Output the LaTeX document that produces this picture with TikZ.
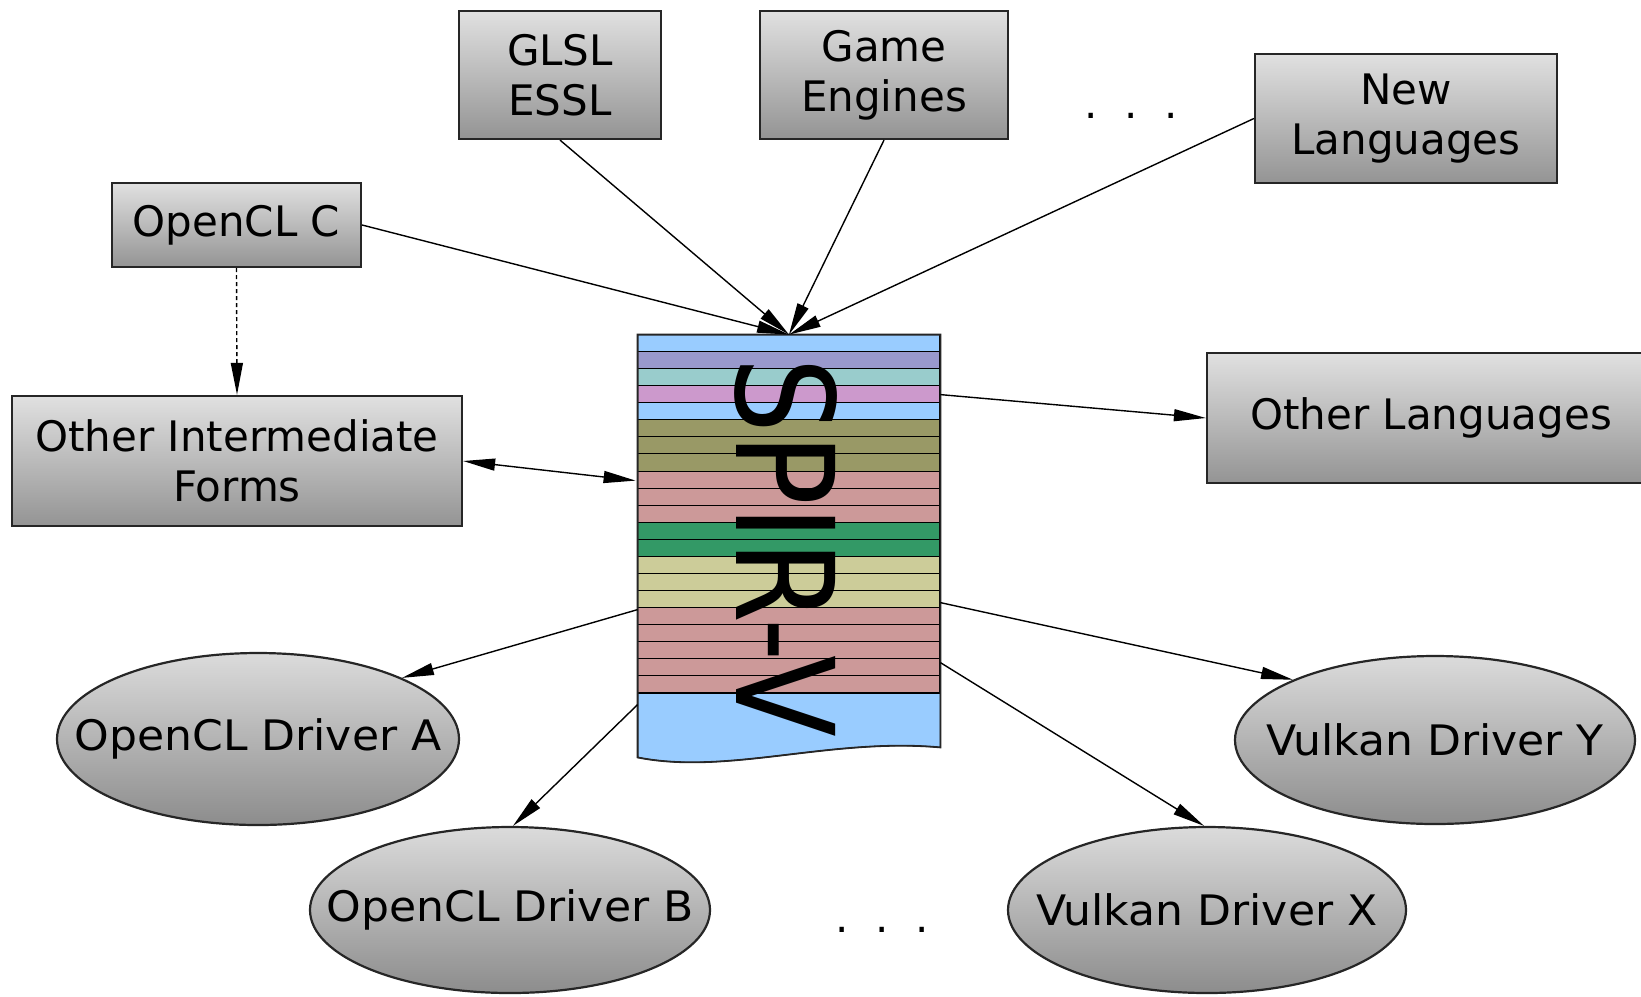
\documentclass[tikz,border=0pt]{standalone}
\usepackage{fontspec}
\setsansfont{DejaVu Sans}
\usepackage{tikz}
\usetikzlibrary{
    calc,
    positioning,
    arrows.meta,
    shapes
}

\begin{document}
\begin{tikzpicture}[
    x=0.5pt, y=-0.5pt,
    font=\sffamily\fontsize{21}{25}\selectfont,
    >={Triangle[length=16pt, width=6pt]},
    box/.style={
    	draw=black!85, line width=1.1pt,
    	top color=black!12, bottom color=black!42,
    	inner sep=0pt, align=center
    }, drv/.style={
    	ellipse, draw=black!85, line width=1.1pt,
    	top color=black!14, bottom color=black!45,
    	inner sep=0pt, align=center
    }, pil/.style={
    	->,
    	line width=0.7pt
    }, pil2/.style={
    	<->,
    	line width=0.7pt
    }]
    \definecolor{sp-blue}{RGB}{153, 204, 255}
    \definecolor{sp-purple}{RGB}{153, 153, 204}
    \definecolor{sp-teal}{RGB}{153, 204, 204}
    \definecolor{sp-pink}{RGB}{204, 153, 204}
    \definecolor{sp-olive}{RGB}{153, 153, 102}
    \definecolor{sp-rose}{RGB}{204, 153, 153}
    \definecolor{sp-green}{RGB}{51, 153, 102}
    \definecolor{sp-khaki}{RGB}{204, 204, 153}

    \clip (0,0) rectangle (1641,996);

    % source languages
    \node[box, minimum width=124.5pt, minimum height=42pt] (openclc) at (236.5,225) {OpenCL C};
    \node[box, minimum width=101pt, minimum height=64pt] (glsl) at (560,75) {GLSL\\ESSL};
    \node[box, minimum width=124pt, minimum height=64pt] (game) at (884,75) {Game\\Engines};
    \node[box, minimum width=151pt, minimum height=64.5pt] (newlang) at (1406,118.5) {New\\Languages};
    \node (dots1) at (1131,116) {.~~.~~.};

    \node[box, minimum width=225pt, minimum height=65pt] (otherif) at (237,461) {Other Intermediate\\Forms};
    \node[box, minimum width=224pt, minimum height=65pt] (otherlang) at (1431,418) {Other Languages};

    % SPIR-V block
    \node[minimum width=151pt, minimum height=206pt, inner sep=0pt] (spirv) at (789,541) {};
    \foreach \col [count=\i from 0] in {sp-blue, sp-purple, sp-teal, sp-pink, sp-blue,
        sp-olive, sp-olive, sp-olive, sp-rose, sp-rose, sp-rose, sp-green, sp-green,
        sp-khaki, sp-khaki, sp-khaki, sp-rose, sp-rose, sp-rose, sp-rose, sp-rose}
        \filldraw[fill=\col, line width=0.5pt] ($(spirv.north west)+(0,\i*17.05)$) rectangle ++(302,17.05);
    \filldraw[fill=sp-blue, line width=0.5pt] ($(spirv.south west)+(0,-54)$) -- ($(spirv.south west)+(0,10)$)
        .. controls ($(spirv.south west)+(90,28)$) and ($(spirv.south east)+(-110,-10)$) .. (spirv.south east)
        -- ($(spirv.south east)+(0,-54)$) -- cycle;
    \draw[line width=0.9pt, draw=black!85] (spirv.north west) -- ($(spirv.south west)+(0,10)$)
        .. controls ($(spirv.south west)+(90,28)$) and ($(spirv.south east)+(-110,-10)$) .. (spirv.south east)
        -- (spirv.north east) -- cycle;
    \node[rotate=-90, inner sep=0pt, font=\sffamily\fontsize{68}{68}\selectfont] (spirv-label) at (786,547) {\scalebox{0.88}[1]{SPIR-V}};

    % drivers
    \node[drv, minimum width=201pt, minimum height=86pt] (drva) at (258,739) {\makebox[0pt]{\scalebox{1.05}[1]{OpenCL Driver A}}};
    \node[drv, minimum width=200pt, minimum height=83pt] (drvb) at (510,910) {\makebox[0pt]{\scalebox{1.05}[1]{OpenCL Driver B}}};
    \node[drv, minimum width=199pt, minimum height=83pt] (drvx) at (1207,910) {\makebox[0pt]{\scalebox{1.05}[1]{Vulkan Driver X}}};
    \node[drv, minimum width=200pt, minimum height=84pt] (drvy) at (1435,740) {\makebox[0pt]{\scalebox{1.05}[1]{Vulkan Driver Y}}};
    \node (dots2) at (882,930) {.~~.~~.};

    \draw[pil] (openclc.east) -- (spirv.north);
    \draw[pil] (glsl.south) -- (spirv.north);
    \draw[pil] (game.south) -- (spirv.north);
    \draw[pil] (newlang.west) -- (spirv.north);
    \draw[pil, dash pattern=on 2pt off 1.5pt] (openclc.south) -- (otherif.north);

    \draw[pil2] (otherif.east) -- ($(spirv.north west)+(-2,146)$);
    \draw[pil] ($(spirv.north east)+(0,60)$) -- (otherlang.west);

    \draw[pil] ($(spirv.north west)+(0,275)$) -- (drva.23);
    \draw[pil] ($(spirv.north west)+(0,370)$) -- (drvb.88);
    \draw[pil] ($(spirv.north east)+(0,268)$) -- (drvy.157);
    \draw[pil] ($(spirv.north east)+(0,328)$) -- (drvx.92);

\end{tikzpicture}
\end{document}
